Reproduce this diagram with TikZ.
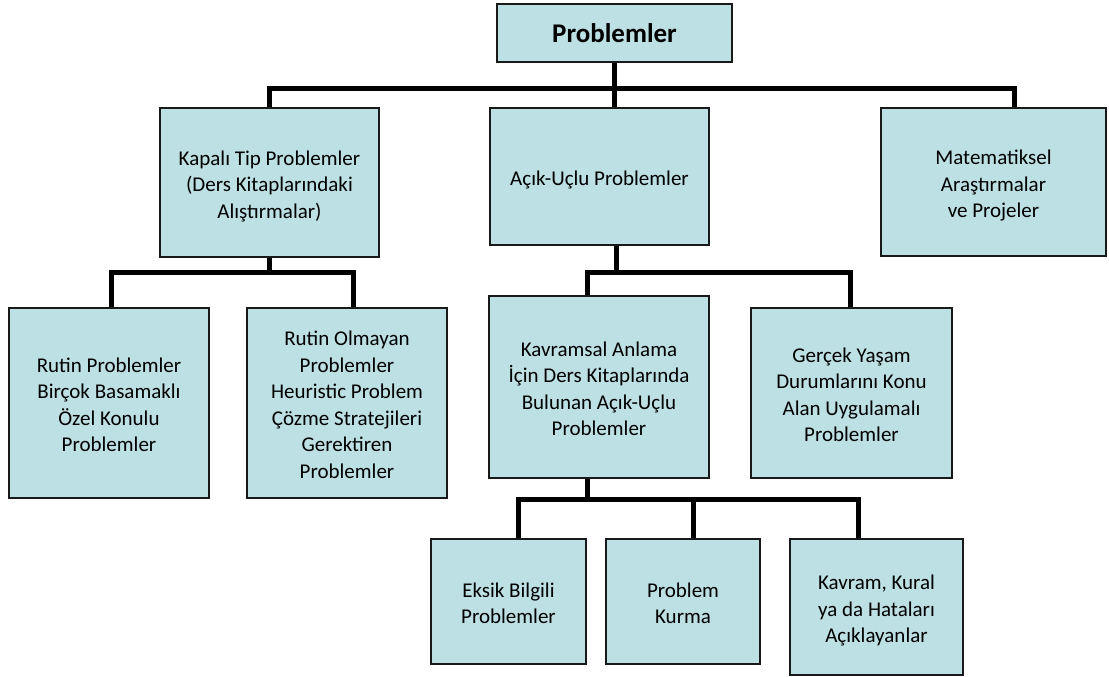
\documentclass[tikz,border=0pt]{standalone}
\usepackage{fontspec}
\setmainfont{Carlito}
\definecolor{boxfill}{RGB}{188,224,227}
\definecolor{boxline}{RGB}{25,25,25}
% struts giving every text block full line boxes at its top and bottom
\newcommand\boxtop{\rule{0pt}{22pt}}
\newcommand\boxbot{\rule[-4pt]{0pt}{4pt}}
\begin{document}
\begin{tikzpicture}[x=1pt,y=-1pt,
  box/.style={draw=boxline, line width=1.6pt, fill=boxfill, inner sep=0pt,
    align=center, font=\fontsize{21}{26.5}\selectfont, text=black},
  conn/.style={draw=black, line width=5pt, line join=miter}]
\useasboundingbox (0,0) rectangle (1109,677);

% bus levels of the tree
\coordinate (busA) at (0,89);
\coordinate (busB) at (0,272);
\coordinate (busC) at (0,499);

% boxes
\node[box, minimum width=235, minimum height=58, font=\fontsize{27}{32}\selectfont\bfseries]
  (root) at (614.5,33) {Problemler};

\node[box, minimum width=219, minimum height=149] (kapali) at (269.5,182.5)
  {\boxtop Kapalı Tip Problemler\\(Ders Kitaplarındaki\\Alıştırmalar)\boxbot};
\node[box, minimum width=219, minimum height=137] (acik) at (599.5,176.5)
  {\boxtop Açık-Uçlu Problemler\boxbot};
\node[box, minimum width=225, minimum height=148] (mat) at (993.5,182)
  {\boxtop Matematiksel\\Araştırmalar\\ve Projeler\boxbot};

\node[box, minimum width=200, minimum height=190] (rutin) at (109,403)
  {\boxtop Rutin Problemler\\Birçok Basamaklı\\Özel Konulu\\Problemler\boxbot};
\node[box, minimum width=200, minimum height=190] (rutinol) at (347,403)
  {\boxtop Rutin Olmayan\\Problemler\\Heuristic Problem\\Çözme Stratejileri\\Gerektiren\\Problemler\boxbot};

\node[box, minimum width=220, minimum height=182] (kavramsal) at (599,387)
  {\boxtop Kavramsal Anlama\\İçin Ders Kitaplarında\\Bulunan Açık-Uçlu\\Problemler\boxbot};
\node[box, minimum width=201, minimum height=170] (gercek) at (851.5,393)
  {\boxtop Gerçek Yaşam\\Durumlarını Konu\\Alan Uygulamalı\\Problemler\boxbot};

\node[box, minimum width=155, minimum height=125] (eksik) at (508.5,601.5)
  {\boxtop Eksik Bilgili\\Problemler\boxbot};
\node[box, minimum width=154, minimum height=125] (kurma) at (683,601.5)
  {\boxtop Problem\\Kurma\boxbot};
\node[box, minimum width=173, minimum height=136] (kavram) at (876.5,607)
  {\boxtop Kavram, Kural\\ya da Hataları\\Açıklayanlar\boxbot};

% first level
\draw[conn] (root.south) -- (root.south |- acik.north);
\draw[conn] (kapali.north) -- (kapali.north |- busA)
  -- ([xshift=20.5]mat.north |- busA) -- ([xshift=20.5]mat.north);

% closed-type problems
\draw[conn] (kapali.south) -- (kapali.south |- busB);
\draw[conn] ([xshift=2]rutin.north) -- ([xshift=2]rutin.north |- busB)
  -- ([xshift=6]rutinol.north |- busB) -- ([xshift=6]rutinol.north);

% open-ended problems
\draw[conn] ([xshift=16.5]acik.south) -- ([xshift=16.5]acik.south |- busB);
\draw[conn] ([xshift=-12]kavramsal.north) -- ([xshift=-12]kavramsal.north |- busB)
  -- ([xshift=-1.5]gercek.north |- busB) -- ([xshift=-1.5]gercek.north);

% conceptual open-ended problems
\draw[conn] ([xshift=-12]kavramsal.south) -- ([xshift=-12]kavramsal.south |- busC);
\draw[conn] ([xshift=9.5]eksik.north) -- ([xshift=9.5]eksik.north |- busC)
  -- ([xshift=-18.5]kavram.north |- busC) -- ([xshift=-18.5]kavram.north);
\draw[conn] ([xshift=10]kurma.north) -- ([xshift=10]kurma.north |- busC);
\end{tikzpicture}
\end{document}
